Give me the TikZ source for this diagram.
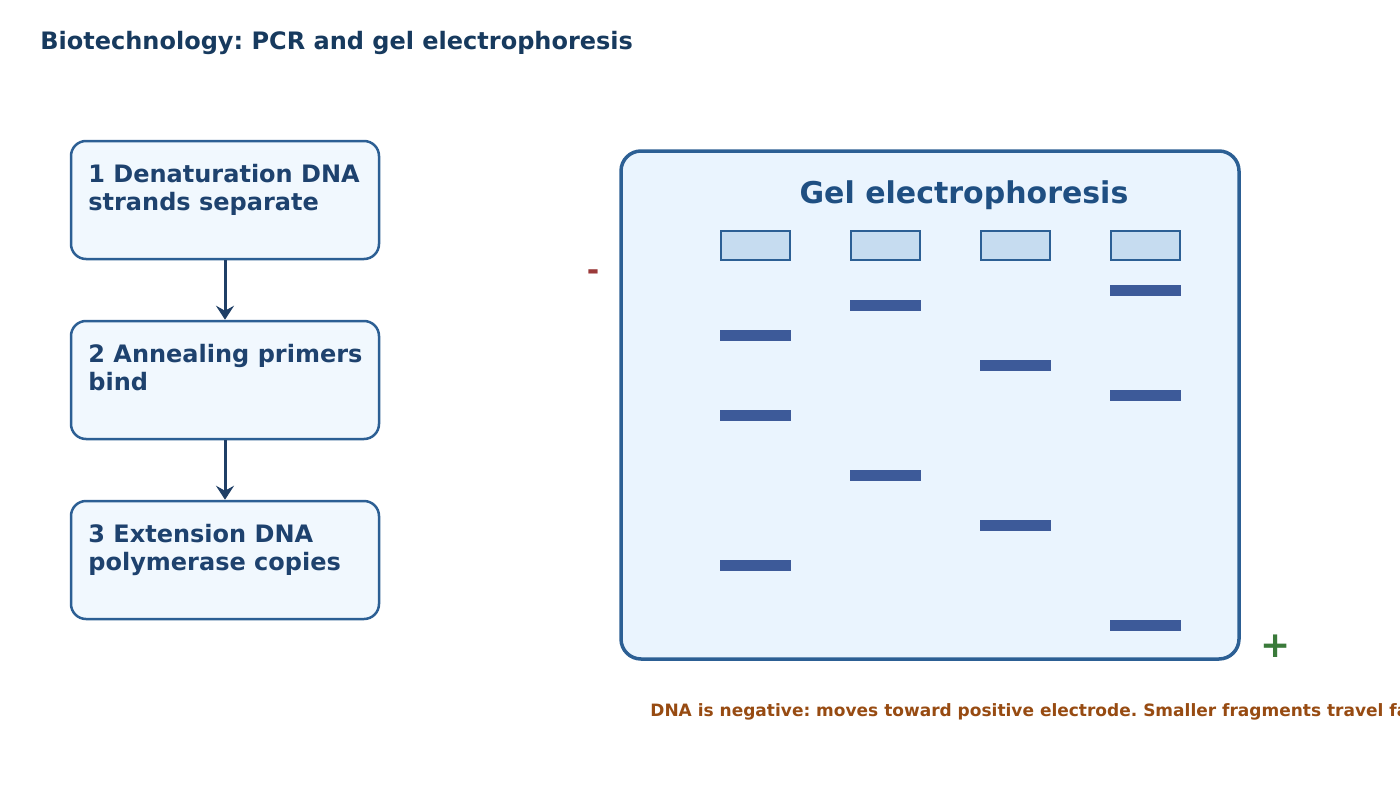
\documentclass[tikz,border=0pt]{standalone}
\usepackage{fontspec}
\setmainfont{DejaVu Sans}
\usetikzlibrary{arrows.meta,positioning}
\frenchspacing

\definecolor{titleblue}{HTML}{173A5E}
\definecolor{stepline}{HTML}{2C5F94}
\definecolor{stepfill}{HTML}{F1F8FE}
\definecolor{steptext}{HTML}{1E426E}
\definecolor{arrowblue}{HTML}{1F3F66}
\definecolor{gelfill}{HTML}{EAF4FE}
\definecolor{geltitle}{HTML}{1F4F82}
\definecolor{wellfill}{HTML}{C6DCF0}
\definecolor{bandblue}{HTML}{3D5A99}
\definecolor{minusred}{HTML}{9B3A3A}
\definecolor{plusgreen}{HTML}{3A7A3A}
\definecolor{notebrown}{HTML}{974B12}

\begin{document}
\begin{tikzpicture}[x=1pt, y=-1pt, thick,
  stepbox/.style={draw=stepline, line width=2.5pt, fill=stepfill, rounded corners=15pt,
    minimum width=308pt, minimum height=118pt, inner sep=0pt},
  steplabel/.style={anchor=north west, inner sep=0pt, align=left, text=steptext,
    font=\bfseries\fontsize{24}{28}\selectfont},
  well/.style={draw=stepline, line width=2pt, fill=wellfill,
    minimum width=69pt, minimum height=29pt, inner sep=0pt},
  flow/.style={-{Stealth[length=14pt, width=18pt, inset=5pt]}, arrowblue, line width=3pt}]

  \useasboundingbox (0,0) rectangle (1400,800);

  % -- Title --
  \node[anchor=base west, inner sep=0pt, text=titleblue, font=\bfseries\fontsize{24}{28}\selectfont]
    (title) at (40,49) {Biotechnology: PCR and gel electrophoresis};

  % -- PCR steps --
  \node[stepbox] (step1) at (225,200) {};
  \node[stepbox] (step2) at (225,380) {};
  \node[stepbox] (step3) at (225,560) {};
  \node[steplabel] (text1) at (88,163.5) {1 Denaturation DNA\\strands separate};
  \node[steplabel] (text2) at (88,343.5) {2 Annealing primers\\bind};
  \node[steplabel] (text3) at (88,523.5) {3 Extension DNA\\polymerase copies};

  \draw[flow] (step1) -- (step2);
  \draw[flow] (step2) -- (step3);

  % -- Gel body --
  \node[draw=stepline, line width=3.5pt, fill=gelfill, rounded corners=20pt,
    minimum width=618pt, minimum height=508pt, inner sep=0pt] (gel) at (930,405) {};
  \node[anchor=base, inner sep=0pt, text=geltitle, font=\bfseries\fontsize{30}{34}\selectfont]
    (geltext) at (964,203) {Gel electrophoresis};

  % -- Wells --
  \foreach \i/\lx in {1/755.5, 2/885.5, 3/1015.5, 4/1145.5}
    \node[well] (lane\i) at (\lx,245.5) {};

  % -- Bands --
  \foreach \lx/\by in {755.5/330, 755.5/410, 755.5/560,
                       885.5/300, 885.5/470,
                       1015.5/360, 1015.5/520,
                       1145.5/285, 1145.5/390, 1145.5/620}
    \fill[bandblue] (\lx-35.5,\by) rectangle ++(71,11);

  % -- Electrodes --
  \node[text=minusred, font=\bfseries\fontsize{30}{34}\selectfont] (cathode) at (593,275) {-};
  \node[text=plusgreen, font=\bfseries\fontsize{36}{40}\selectfont] (anode) at (1276,646) {+};

  % -- Note --
  \node[anchor=base west, inner sep=0pt, text=notebrown, font=\bfseries\fontsize{17}{20}\selectfont]
    (note) at (650,716) {DNA is negative: moves toward positive electrode. Smaller fragments travel farther.};

\end{tikzpicture}
\end{document}
